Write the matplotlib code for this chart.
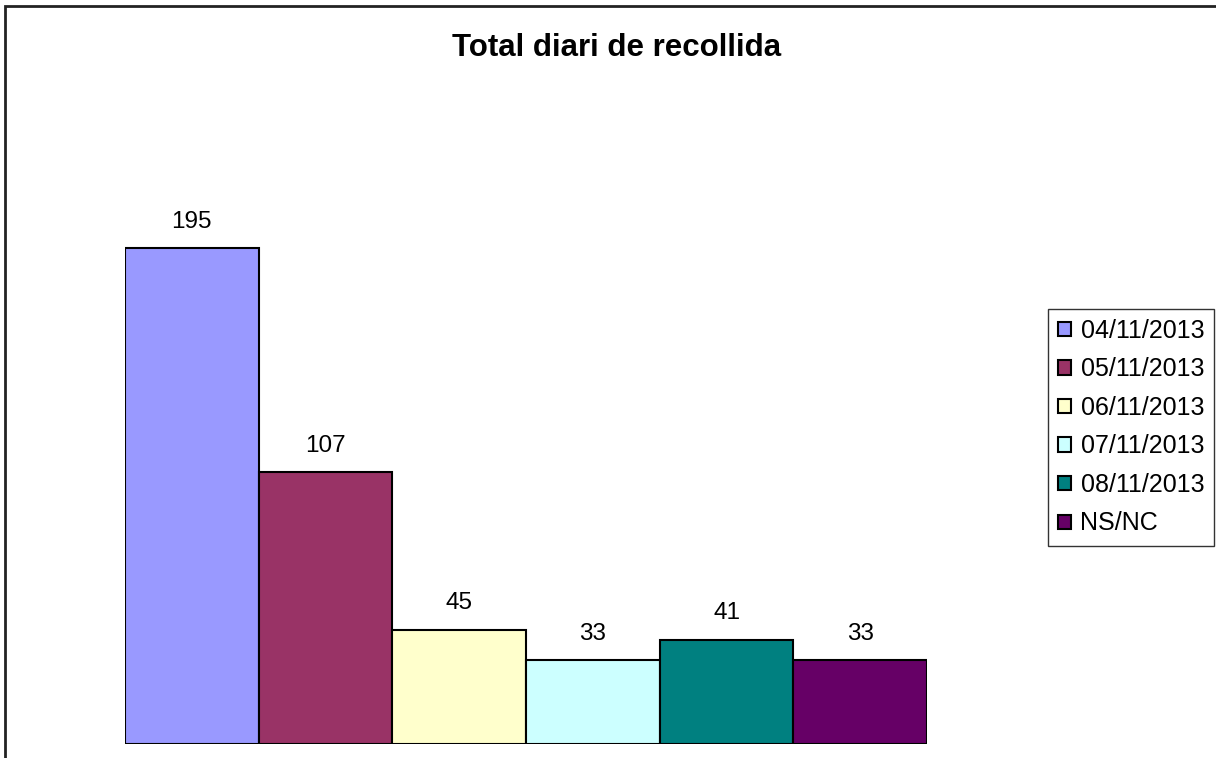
import matplotlib
matplotlib.use("Agg")
import matplotlib.pyplot as plt
from matplotlib.patches import Rectangle

# daily collection totals
dates = ["04/11/2013", "05/11/2013", "06/11/2013", "07/11/2013", "08/11/2013", "NS/NC"]
totals = [195, 107, 45, 33, 41, 33]
colors = ["#9999FF", "#993366", "#FFFFCC", "#CCFFFF", "#008080", "#660066"]

plt.rcParams["font.family"] = ["Liberation Sans", "DejaVu Sans"]

W, H = 1216, 758
fig = plt.figure(figsize=(W / 100, H / 100), dpi=100)
fig.patch.set_facecolor("white")

# plot area in pixel terms
left, right, top, bottom = 125, 927, 108, 744
ax = fig.add_axes([left / W, 1 - bottom / H, (right - left) / W, (bottom - top) / H])

bars = []
for i, (d, v, c) in enumerate(zip(dates, totals, colors)):
    b = ax.bar(i, v, width=1.0, color=c, edgecolor="black", linewidth=1.5, label=d)
    bars.append(b)
    ax.bar_label(b, labels=[str(v)], padding=11, fontsize=17.5)

ax.set_xlim(-0.5, len(totals) - 0.5)
ax.set_ylim(0, 250)
ax.axis("off")

fig.text(617 / W, 1 - 48 / H, "Total diari de recollida", ha="center", va="center",
         fontsize=22.5, fontweight="bold")

leg = fig.legend(handles=[b[0] for b in bars], labels=dates, loc="upper left",
                 bbox_to_anchor=(1048 / W, 1 - 309 / H), fontsize=18,
                 frameon=True, fancybox=False, handlelength=0.5, handleheight=0.5,
                 handletextpad=0.4, labelspacing=0.58, borderpad=0.4,
                 borderaxespad=0)
leg.get_frame().set_edgecolor("black")
leg.get_frame().set_linewidth(1.0)
for h in leg.legend_handles:
    h.set_linewidth(1.5)

# outer chart border (right and bottom edges run off the canvas)
fig.add_artist(Rectangle((5 / W, -0.1), 1.2, 1 - 6 / H + 0.1, transform=fig.transFigure,
                         fill=False, edgecolor="#222222", linewidth=2))

fig.savefig("out.png", dpi=100)
